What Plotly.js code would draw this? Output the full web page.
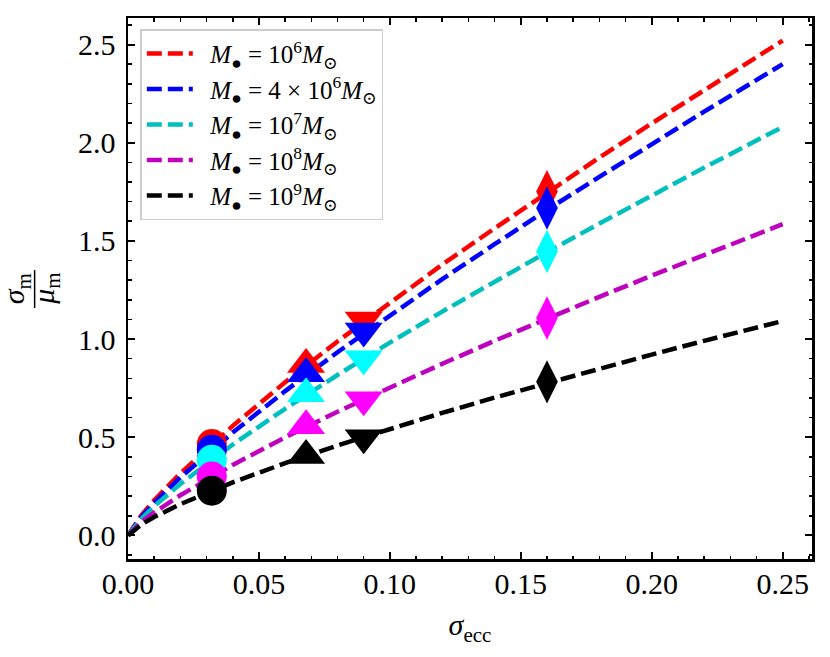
<!DOCTYPE html>
<html>
<head>
<meta charset="utf-8">
<script src="https://cdn.plot.ly/plotly-3.0.1.min.js"></script>
<style>
  html, body { margin: 0; padding: 0; background: #fff; }
  #chart { width: 830px; height: 657px; }
</style>
</head>
<body>
<div id="chart"></div>
<script>
// x grid of the dashed curves (sigma_ecc)
const curveX = [0, 0.005, 0.01, 0.02, 0.04, 0.06, 0.08, 0.10, 0.12, 0.14, 0.16, 0.18, 0.20, 0.22, 0.25];

// sigma_m / mu_m
const curveM6   = [0, 0.101, 0.179, 0.316, 0.558, 0.780, 0.988, 1.187, 1.379, 1.564, 1.746, 1.924, 2.098, 2.268, 2.52];
const curveM4e6 = [0, 0.093, 0.166, 0.295, 0.524, 0.735, 0.933, 1.122, 1.305, 1.483, 1.658, 1.826, 1.994, 2.158, 2.40];
const curveM7   = [0, 0.084, 0.149, 0.262, 0.463, 0.645, 0.817, 0.982, 1.140, 1.292, 1.443, 1.588, 1.732, 1.873, 2.08];
const curveM8   = [0, 0.067, 0.117, 0.205, 0.359, 0.499, 0.630, 0.754, 0.874, 0.991, 1.105, 1.215, 1.323, 1.429, 1.585];
const curveM9   = [0, 0.055, 0.094, 0.159, 0.270, 0.368, 0.458, 0.543, 0.624, 0.702, 0.777, 0.850, 0.921, 0.991, 1.092];

// the four measured points per mass (circle, up, down, diamond)
const pointX = [0.032, 0.068, 0.090, 0.160];
const pointM6   = [0.465, 0.870, 1.097, 1.751];
const pointM4e6 = [0.436, 0.824, 1.041, 1.667];
const pointM7   = [0.385, 0.722, 0.900, 1.446];
const pointM8   = [0.300, 0.558, 0.691, 1.107];
const pointM9   = [0.228, 0.407, 0.498, 0.782];

const legendNames = [
    '<i>M</i><sub>●</sub> = 10<sup>6</sup><i>M</i><sub>⊙</sub>',
    '<i>M</i><sub>●</sub> = 4 × 10<sup>6</sup><i>M</i><sub>⊙</sub>',
    '<i>M</i><sub>●</sub> = 10<sup>7</sup><i>M</i><sub>⊙</sub>',
    '<i>M</i><sub>●</sub> = 10<sup>8</sup><i>M</i><sub>⊙</sub>',
    '<i>M</i><sub>●</sub> = 10<sup>9</sup><i>M</i><sub>⊙</sub>'
];

const serif = 'Liberation Serif, DejaVu Serif, serif';

function buildChart() {
    const curves = [curveM6, curveM4e6, curveM7, curveM8, curveM9];
    const points = [pointM6, pointM4e6, pointM7, pointM8, pointM9];
    const lineColors = ['#ff0000', '#0000ff', '#00bfbf', '#bf00bf', '#000000'];
    const markColors = ['#ff0000', '#0000ff', '#00ffff', '#ff00ff', '#000000'];

    const traces = [];
    // dashed curves first, markers go on top
    curves.forEach((ys, i) => {
        traces.push({
            x: curveX, y: ys,
            type: 'scatter', mode: 'lines',
            // en space: a bit more room between sample line and label
            name: '\u2002' + legendNames[i],
            line: { color: lineColors[i], width: 4.5, dash: '15px,6px' },
            hoverinfo: 'skip'
        });
    });
    points.forEach((ys, i) => {
        traces.push({
            x: pointX, y: ys,
            type: 'scatter', mode: 'markers',
            showlegend: false,
            marker: {
                color: markColors[i],
                opacity: 1,
                symbol: ['circle', 'triangle-up', 'triangle-down', 'diamond-tall'],
                size: [30, 33, 33, 31],
                line: { width: 0 }
            },
            hoverinfo: 'skip'
        });
    });

    const axisBase = {
        showgrid: false, zeroline: false,
        showline: true, linecolor: '#000', linewidth: 2.5, mirror: 'allticks',
        ticks: 'inside', ticklen: 7, tickwidth: 2, tickcolor: '#000',
        tickfont: { family: serif, size: 30, color: '#000' }
    };

    const layout = {
        width: 830, height: 657,
        margin: { l: 128, r: 18, t: 18, b: 98 },
        paper_bgcolor: '#fff', plot_bgcolor: '#fff',
        xaxis: Object.assign({}, axisBase, {
            range: [0, 0.2612], dtick: 0.05, tick0: 0, tickformat: '.2f',
            ticklabelstandoff: -4,
            minor: { dtick: 0.01, ticks: 'inside', ticklen: 3.5, tickwidth: 1.5, tickcolor: '#000' },
            title: { text: '<i>σ</i><sub>ecc</sub>', font: { family: serif, size: 30, color: '#000' }, standoff: 16 }
        }),
        yaxis: Object.assign({}, axisBase, {
            range: [-0.12, 2.635], dtick: 0.5, tick0: 0, tickformat: '.1f',
            ticklabelstandoff: 4,
            minor: { dtick: 0.1, ticks: 'inside', ticklen: 3.5, tickwidth: 1.5, tickcolor: '#000' }
        }),
        legend: {
            x: 0.018, y: 0.979, xanchor: 'left', yanchor: 'top',
            bgcolor: 'rgba(255,255,255,0.85)', bordercolor: '#cccccc', borderwidth: 1.5,
            font: { family: serif, size: 25, color: '#000' },
            itemwidth: 46
        },
        // y label drawn as a rotated fraction sigma_m / mu_m
        annotations: [
            { xref: 'paper', yref: 'paper', x: -0.164, y: 0.5, xanchor: 'center', yanchor: 'middle',
              text: '<i>σ</i><sub>m</sub>', textangle: -90, showarrow: false,
              font: { family: serif, size: 30, color: '#000' } },
            { xref: 'paper', yref: 'paper', x: -0.121, y: 0.5, xanchor: 'center', yanchor: 'middle',
              text: '<i>μ</i><sub>m</sub>', textangle: -90, showarrow: false,
              font: { family: serif, size: 30, color: '#000' } }
        ],
        shapes: [
            { type: 'line', xref: 'paper', yref: 'paper', x0: -0.1365, x1: -0.1365, y0: 0.464, y1: 0.534,
              line: { color: '#000', width: 1.5 } }
        ]
    };

    Plotly.newPlot('chart', traces, layout, { displayModeBar: false, staticPlot: true });
}

document.addEventListener('DOMContentLoaded', () => {
    buildChart();
});
</script>
</body>
</html>
